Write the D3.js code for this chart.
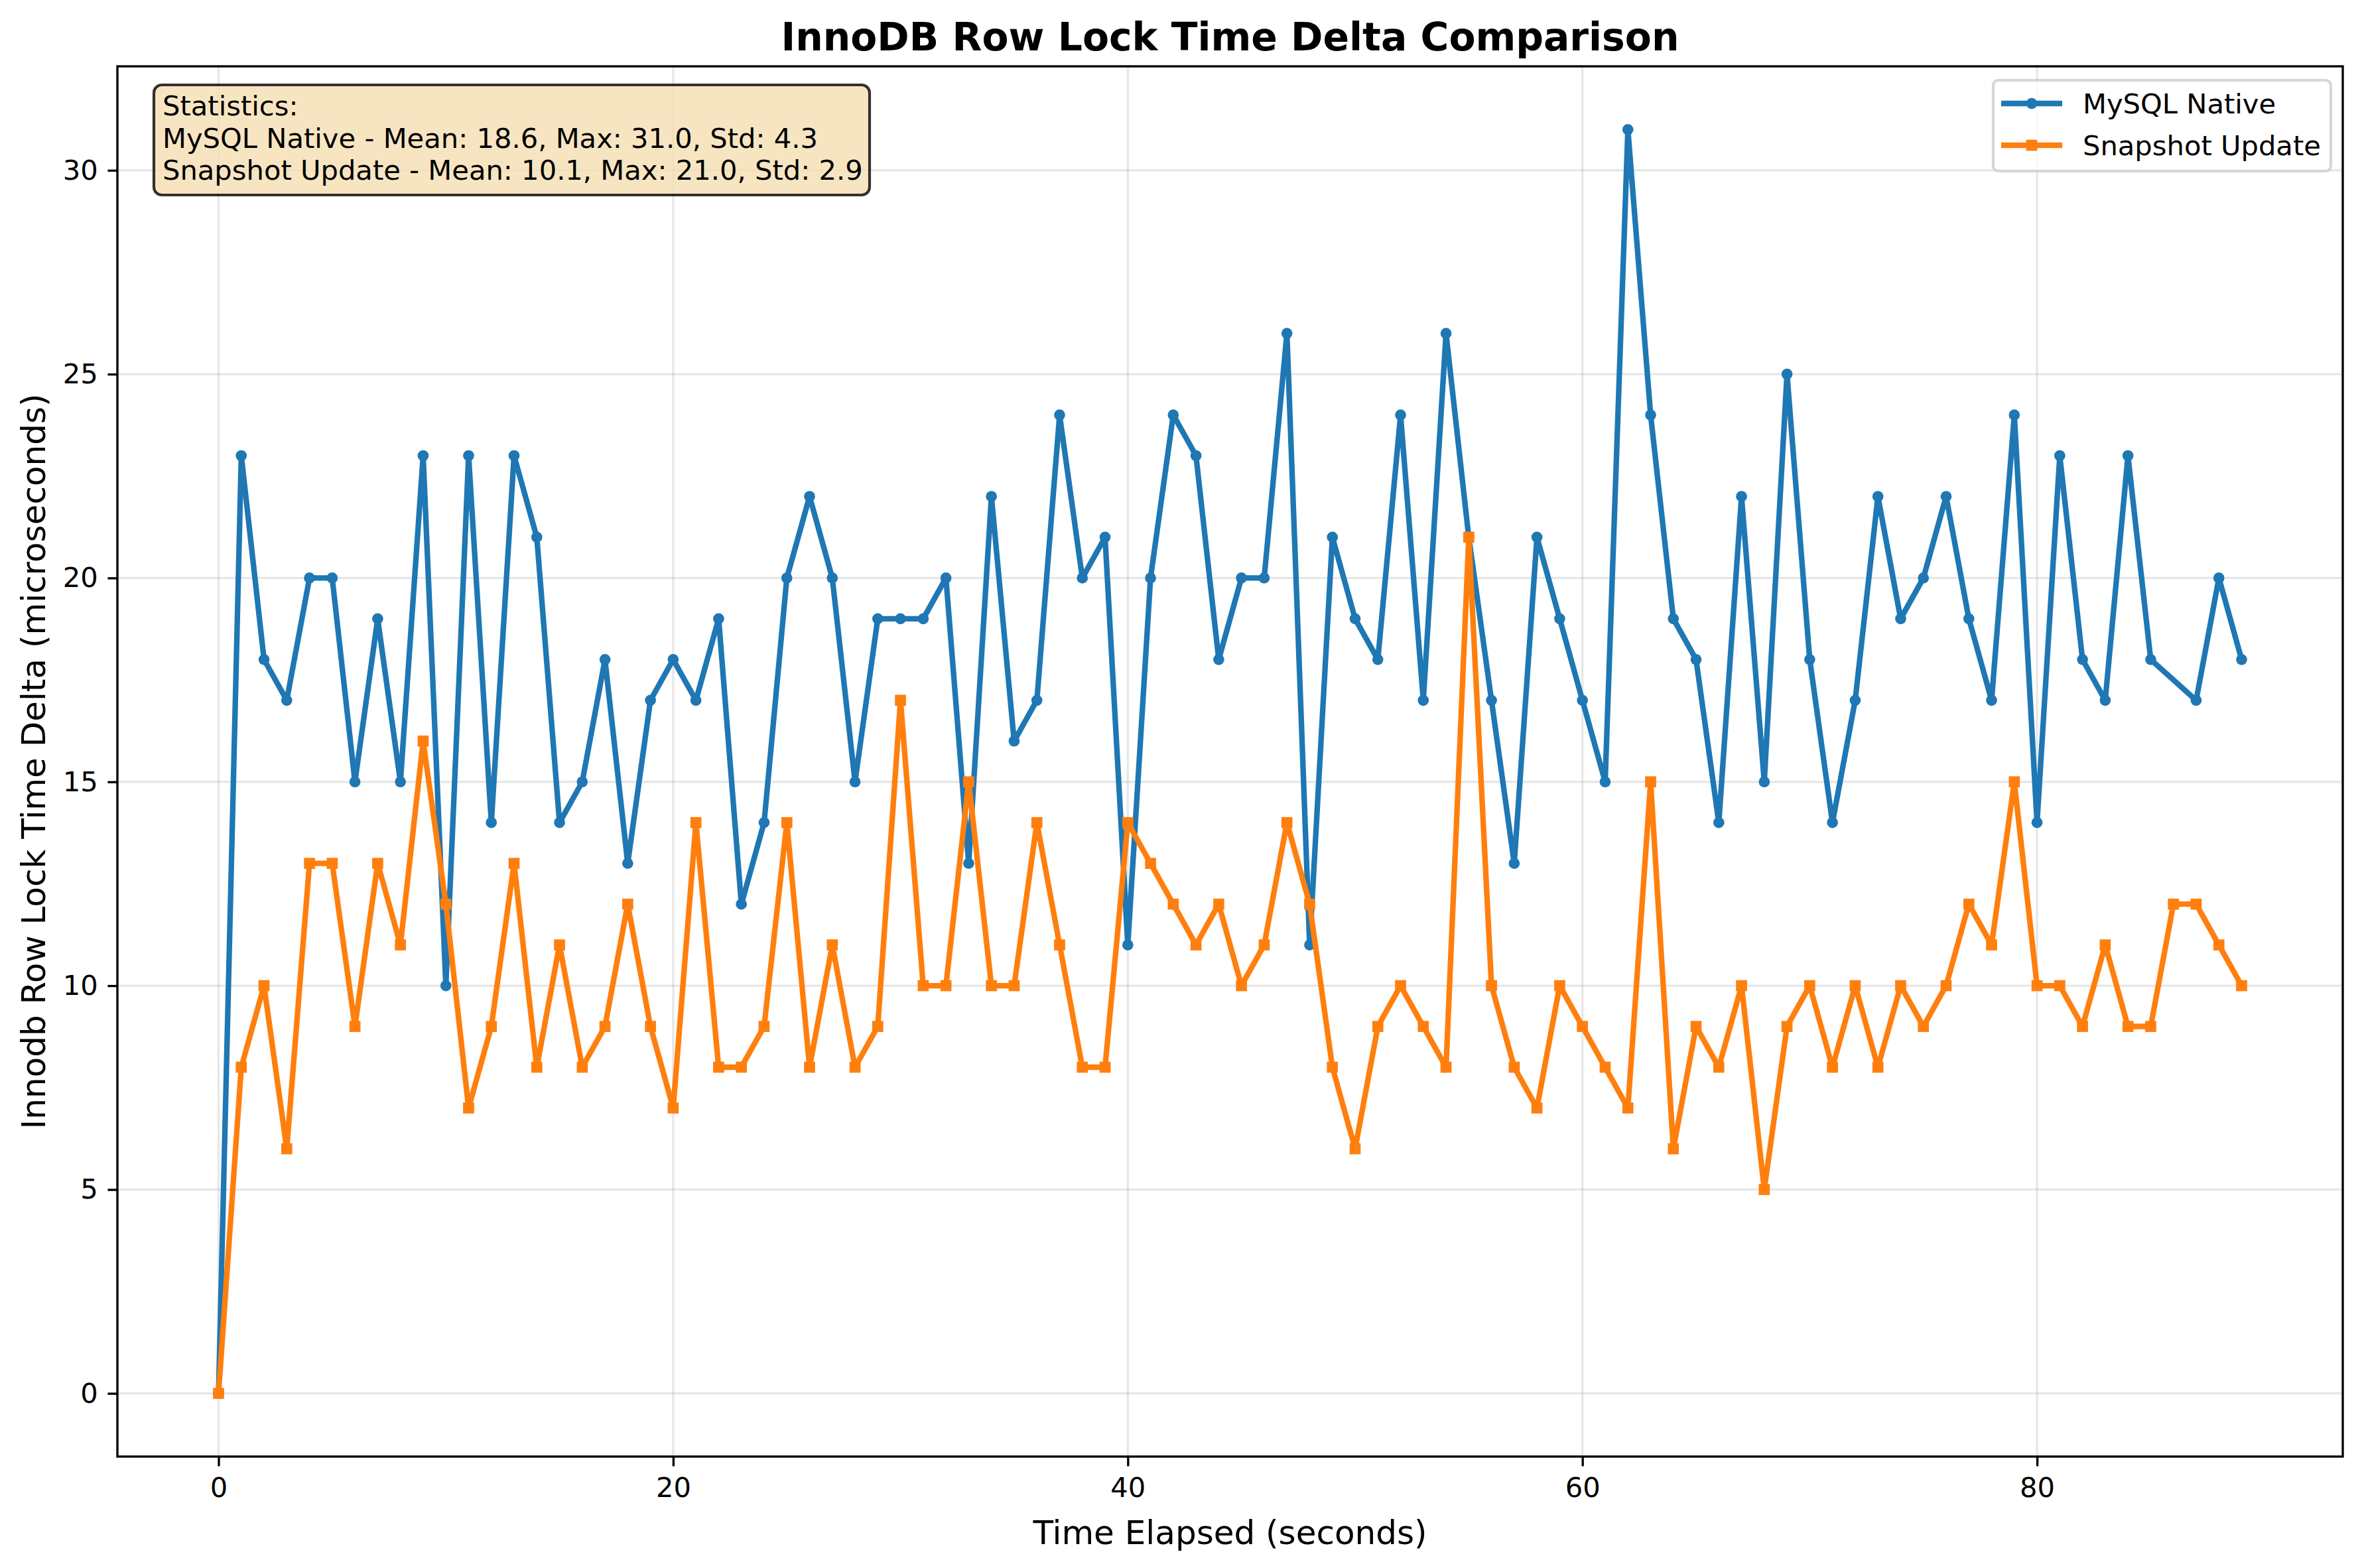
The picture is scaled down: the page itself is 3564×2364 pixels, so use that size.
<!DOCTYPE html>
<html>
<head>
<meta charset="utf-8">
<script src="https://cdn.jsdelivr.net/npm/d3@7"></script>
<style>
  html, body { margin: 0; padding: 0; background: #ffffff; }
  svg text { font-family: "DejaVu Sans", sans-serif; fill: #000000; }
</style>
</head>
<body>
<svg id="chart"></svg>
<script>
// seconds since start (x axis)
var timeSeconds = [
    0, 1, 2, 3, 4, 5, 6, 7, 8, 9,
    10, 11, 12, 13, 14, 15, 16, 17, 18, 19,
    20, 21, 22, 23, 24, 25, 26, 27, 28, 29,
    30, 31, 32, 33, 34, 35, 36, 37, 38, 39,
    40, 41, 42, 43, 44, 45, 46, 47, 48, 49,
    50, 51, 52, 53, 54, 55, 56, 57, 58, 59,
    60, 61, 62, 63, 64, 65, 66, 67, 68, 69,
    70, 71, 72, 73, 74, 75, 76, 77, 78, 79,
    80, 81, 82, 83, 84, 85, 86, 87, 88, 89
];
// MySQL Native has no sample at t=86
var nativeValues = [
    0, 23, 18, 17, 20, 20, 15, 19, 15, 23,
    10, 23, 14, 23, 21, 14, 15, 18, 13, 17,
    18, 17, 19, 12, 14, 20, 22, 20, 15, 19,
    19, 19, 20, 13, 22, 16, 17, 24, 20, 21,
    11, 20, 24, 23, 18, 20, 20, 26, 11, 21,
    19, 18, 24, 17, 26, 21, 17, 13, 21, 19,
    17, 15, 31, 24, 19, 18, 14, 22, 15, 25,
    18, 14, 17, 22, 19, 20, 22, 19, 17, 24,
    14, 23, 18, 17, 23, 18, null, 17, 20, 18
];
var snapshotValues = [
    0, 8, 10, 6, 13, 13, 9, 13, 11, 16,
    12, 7, 9, 13, 8, 11, 8, 9, 12, 9,
    7, 14, 8, 8, 9, 14, 8, 11, 8, 9,
    17, 10, 10, 15, 10, 10, 14, 11, 8, 8,
    14, 13, 12, 11, 12, 10, 11, 14, 12, 8,
    6, 9, 10, 9, 8, 21, 10, 8, 7, 10,
    9, 8, 7, 15, 6, 9, 8, 10, 5, 9,
    10, 8, 10, 8, 10, 9, 10, 12, 11, 15,
    10, 10, 9, 11, 9, 9, 12, 12, 11, 10
];
var seriesNames = ["MySQL Native", "Snapshot Update"];
var xTicks = [0, 20, 40, 60, 80];
var yTicks = [0, 5, 10, 15, 20, 25, 30];
var statsLines = [
    "Statistics:",
    "MySQL Native - Mean: 18.6, Max: 31.0, Std: 4.3",
    "Snapshot Update - Mean: 10.1, Max: 21.0, Std: 2.9"
];

var W = 3564, H = 2364;
var pt = 300 / 72;   // figure was rendered at 300 dpi
var plotLeft = 177, plotRight = 3532, plotTop = 100, plotBottom = 2196;

var svg = d3.select("svg#chart").attr("width", W).attr("height", H);
svg.append("rect").attr("width", W).attr("height", H).attr("fill", "#ffffff");

var xScale = d3.scaleLinear().domain([-4.45, 93.45]).range([plotLeft, plotRight]);
var yScale = d3.scaleLinear().domain([-1.55, 32.55]).range([plotBottom, plotTop]);

function pairs(values) {
    var out = [];
    for (var i = 0; i < timeSeconds.length; i++) {
        if (values[i] !== null) {
            out.push({ t: timeSeconds[i], v: values[i] });
        }
    }
    return out;
}

// grid
var grid = svg.append("g");
grid.selectAll("line.gx").data(xTicks).enter().append("line")
    .attr("x1", function (d) { return xScale(d); }).attr("x2", function (d) { return xScale(d); })
    .attr("y1", plotTop).attr("y2", plotBottom)
    .attr("stroke", "#b0b0b0").attr("stroke-opacity", 0.3).attr("stroke-width", 0.8 * pt);
grid.selectAll("line.gy").data(yTicks).enter().append("line")
    .attr("y1", function (d) { return yScale(d); }).attr("y2", function (d) { return yScale(d); })
    .attr("x1", plotLeft).attr("x2", plotRight)
    .attr("stroke", "#b0b0b0").attr("stroke-opacity", 0.3).attr("stroke-width", 0.8 * pt);

// axes
var xAxis = d3.axisBottom(xScale).tickValues(xTicks).tickFormat(d3.format("d"))
    .tickSizeInner(3.5 * pt).tickSizeOuter(0).tickPadding(3.5 * pt);
var yAxis = d3.axisLeft(yScale).tickValues(yTicks).tickFormat(d3.format("d"))
    .tickSizeInner(3.5 * pt).tickSizeOuter(0).tickPadding(3.5 * pt);

var gx = svg.append("g").attr("transform", "translate(0," + plotBottom + ")").call(xAxis);
var gy = svg.append("g").attr("transform", "translate(" + plotLeft + ",0)").call(yAxis);
[gx, gy].forEach(function (g) {
    g.select(".domain").remove();
    g.selectAll(".tick line").attr("stroke", "#000").attr("stroke-width", 0.8 * pt);
    g.selectAll(".tick text").attr("font-size", 10 * pt).attr("font-family", "DejaVu Sans").attr("fill", "#000");
});
gx.selectAll(".tick text").attr("dy", "0.76em");

// series
var colors = ["#1f77b4", "#ff7f0e"];
var line = d3.line().x(function (d) { return xScale(d.t); }).y(function (d) { return yScale(d.v); });
var markerSize = 4 * pt;

var nativeData = pairs(nativeValues);
svg.append("path").datum(nativeData).attr("d", line)
    .attr("fill", "none").attr("stroke", colors[0]).attr("stroke-width", 2 * pt)
    .attr("stroke-linejoin", "round").attr("stroke-linecap", "square");
svg.append("g").selectAll("circle").data(nativeData).enter().append("circle")
    .attr("cx", function (d) { return xScale(d.t); })
    .attr("cy", function (d) { return yScale(d.v); })
    .attr("r", markerSize / 2).attr("fill", colors[0]);

var snapshotData = pairs(snapshotValues);
svg.append("path").datum(snapshotData).attr("d", line)
    .attr("fill", "none").attr("stroke", colors[1]).attr("stroke-width", 2 * pt)
    .attr("stroke-linejoin", "round").attr("stroke-linecap", "square");
svg.append("g").selectAll("rect").data(snapshotData).enter().append("rect")
    .attr("x", function (d) { return xScale(d.t) - markerSize / 2; })
    .attr("y", function (d) { return yScale(d.v) - markerSize / 2; })
    .attr("width", markerSize).attr("height", markerSize).attr("fill", colors[1]);

// spines
svg.append("rect").attr("x", plotLeft).attr("y", plotTop)
    .attr("width", plotRight - plotLeft).attr("height", plotBottom - plotTop)
    .attr("fill", "none").attr("stroke", "#000").attr("stroke-width", 0.8 * pt);

// stats box
svg.append("rect").attr("x", 232).attr("y", 128).attr("width", 1311 - 232).attr("height", 294 - 128)
    .attr("rx", 12).attr("ry", 12)
    .attr("fill", "#f5deb3").attr("fill-opacity", 0.8)
    .attr("stroke", "#000").attr("stroke-opacity", 0.8).attr("stroke-width", 1 * pt);
svg.append("g").selectAll("text").data(statsLines).enter().append("text")
    .attr("x", 245).attr("y", function (d, i) { return 174 + i * 48.5; })
    .attr("font-size", 10 * pt).text(function (d) { return d; });

// legend
var legend = svg.append("g");
legend.append("rect").attr("x", 3005).attr("y", 121).attr("width", 3514 - 3005).attr("height", 258 - 121)
    .attr("rx", 8).attr("ry", 8).attr("fill", "#ffffff").attr("fill-opacity", 0.8)
    .attr("stroke", "#cccccc").attr("stroke-opacity", 0.8).attr("stroke-width", 1 * pt);
seriesNames.forEach(function (name, i) {
    var cy = 156 + i * 63;
    legend.append("line").attr("x1", 3017).attr("x2", 3109).attr("y1", cy).attr("y2", cy)
        .attr("stroke", colors[i]).attr("stroke-width", 2 * pt);
    if (i === 0) {
        legend.append("circle").attr("cx", 3063).attr("cy", cy).attr("r", markerSize / 2).attr("fill", colors[i]);
    } else {
        legend.append("rect").attr("x", 3063 - markerSize / 2).attr("y", cy - markerSize / 2)
            .attr("width", markerSize).attr("height", markerSize).attr("fill", colors[i]);
    }
    legend.append("text").attr("x", 3140).attr("y", cy).attr("dy", "0.36em")
        .attr("font-size", 10 * pt).text(name);
});

// title and axis labels
var midX = (plotLeft + plotRight) / 2;
svg.append("text").attr("x", midX).attr("y", 76)
    .attr("text-anchor", "middle").attr("font-size", 14 * pt).attr("font-weight", "bold")
    .text("InnoDB Row Lock Time Delta Comparison");
svg.append("text").attr("x", midX).attr("y", 2328)
    .attr("text-anchor", "middle").attr("font-size", 12 * pt)
    .text("Time Elapsed (seconds)");
svg.append("text").attr("transform", "translate(68," + ((plotTop + plotBottom) / 2) + ") rotate(-90)")
    .attr("text-anchor", "middle").attr("font-size", 12 * pt)
    .text("Innodb Row Lock Time Delta (microseconds)");
</script>
</body>
</html>
